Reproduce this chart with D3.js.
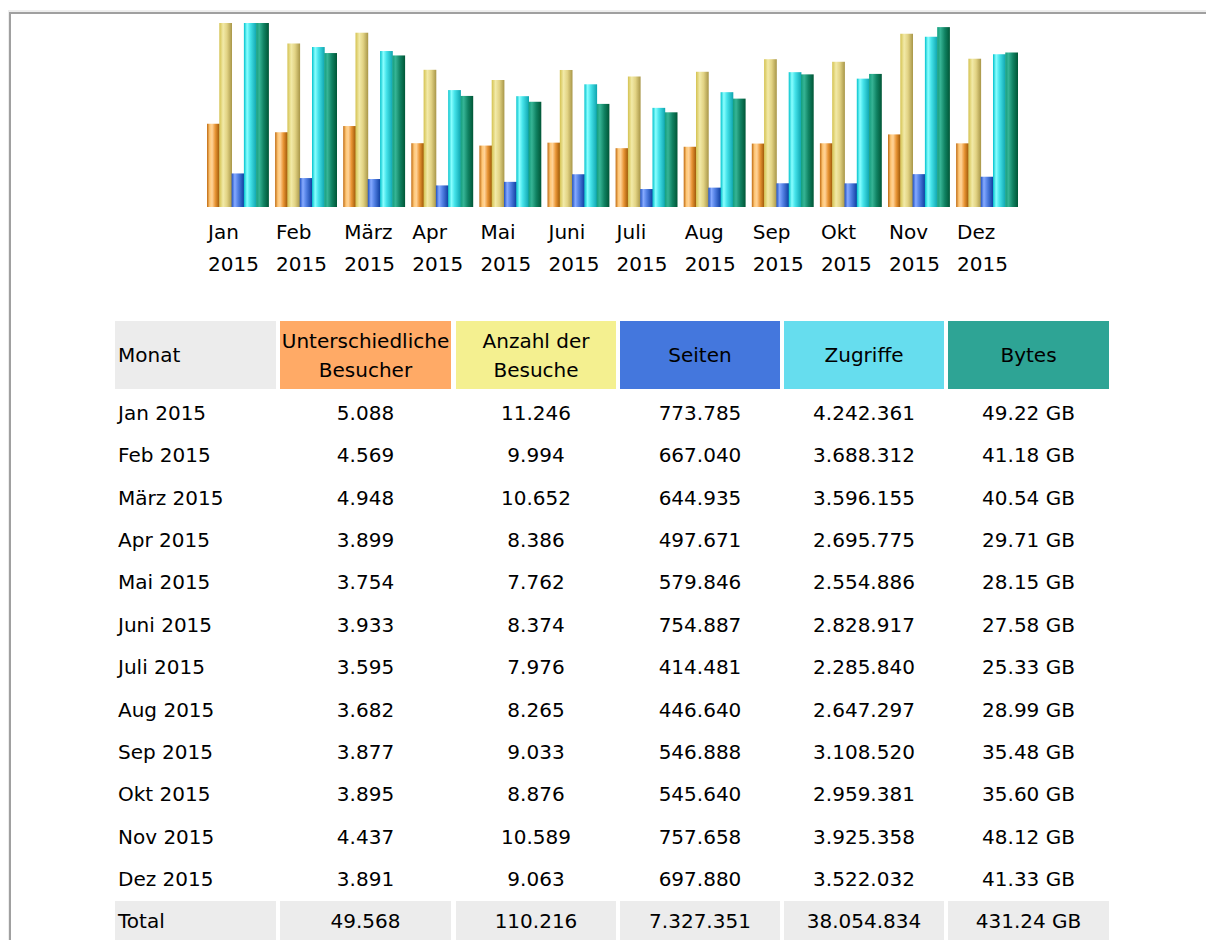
<!DOCTYPE html>
<html>
<head>
<meta charset="utf-8">
<script src="https://cdn.jsdelivr.net/npm/d3@7"></script>
<style>
  body { margin: 0; background: #fff; }
  text { font-family: "DejaVu Sans", Verdana, sans-serif; font-size: 20px; fill: #000; }
</style>
</head>
<body>
<div id="chart-area"></div>
<script>
const width = 1206;
const height = 940;

// data
const months = ["Jan", "Feb", "März", "Apr", "Mai", "Juni", "Juli", "Aug", "Sep", "Okt", "Nov", "Dez"];
const year = "2015";
const visitors = [5088, 4569, 4948, 3899, 3754, 3933, 3595, 3682, 3877, 3895, 4437, 3891];
const visits = [11246, 9994, 10652, 8386, 7762, 8374, 7976, 8265, 9033, 8876, 10589, 9063];
const pages = [773785, 667040, 644935, 497671, 579846, 754887, 414481, 446640, 546888, 545640, 757658, 697880];
const hits = [4242361, 3688312, 3596155, 2695775, 2554886, 2828917, 2285840, 2647297, 3108520, 2959381, 3925358, 3522032];
const bytesGB = [49.22, 41.18, 40.54, 29.71, 28.15, 27.58, 25.33, 28.99, 35.48, 35.60, 48.12, 41.33];
const totals = ["49.568", "110.216", "7.327.351", "38.054.834", "431.24 GB"];
const headers = [["Monat"], ["Unterschiedliche", "Besucher"], ["Anzahl der", "Besuche"], ["Seiten"], ["Zugriffe"], ["Bytes"]];
const headerColors = ["#ececec", "#ffaa66", "#f4f090", "#4477dd", "#66ddee", "#2ea495"];

const de = d3.formatLocale({decimal: ",", thousands: ".", grouping: [3], currency: ["", " €"]});
const fmtInt = de.format(",d");
const fmtGB = v => d3.format(".2f")(v) + " GB";

const svg = d3.select("#chart-area")
    .append("svg")
        .attr("width", width)
        .attr("height", height);

// page frame
svg.append("rect").attr("x", 8).attr("y", 10).attr("width", width).attr("height", 2).attr("fill", "#eeeeee");
svg.append("rect").attr("x", 8).attr("y", 10).attr("width", 1).attr("height", height).attr("fill", "#eeeeee");
svg.append("rect").attr("x", 9).attr("y", 12).attr("width", width).attr("height", 2).attr("fill", "#a0a0a0");
svg.append("rect").attr("x", 9).attr("y", 12).attr("width", 2).attr("height", height).attr("fill", "#a0a0a0");

// gradients for the shaded bars
const gradients = {
    u: [["0%", "#c06a10"], ["22%", "#ffc878"], ["40%", "#ffd398"], ["65%", "#e99535"], ["100%", "#9a5505"]],
    v: [["0%", "#d4c250"], ["30%", "#f2eaa8"], ["60%", "#e2d384"], ["100%", "#a89648"]],
    p: [["0%", "#1e4fc0"], ["25%", "#86aaff"], ["50%", "#5583e6"], ["100%", "#0c3c9e"]],
    h: [["0%", "#00c2cc"], ["25%", "#8affff"], ["50%", "#45e3ea"], ["100%", "#0ea4ae"]],
    k: [["0%", "#129e7e"], ["25%", "#36b495"], ["60%", "#108262"], ["100%", "#005636"]]
};
const defs = svg.append("defs");
Object.entries(gradients).forEach(([key, stops]) => {
    const g = defs.append("linearGradient").attr("id", "grad-" + key)
        .attr("x1", "0%").attr("x2", "100%").attr("y1", "0%").attr("y2", "0%");
    stops.forEach(s => g.append("stop").attr("offset", s[0]).attr("stop-color", s[1]));
});

// bar chart
const baseline = 207;
const x = d3.scaleBand()
    .domain(months)
    .range([207, 207 + 11 * 68.1 + 61.5])
    .paddingInner(0.097);
const series = ["u", "v", "p", "h", "k"];
const xSub = d3.scaleBand().domain(series).range([0, x.bandwidth()]);

const yVisits = d3.scaleLinear().domain([0, d3.max(visits)]).range([0, 184]);
const yHits = d3.scaleLinear().domain([0, d3.max(hits)]).range([0, 184]);
const yBytes = d3.scaleLinear().domain([0, d3.max(bytesGB)]).range([0, 184]);

const barData = [];
months.forEach((m, i) => {
    barData.push({m, s: "u", h: yVisits(visitors[i])});
    barData.push({m, s: "v", h: yVisits(visits[i])});
    barData.push({m, s: "p", h: yHits(pages[i])});
    barData.push({m, s: "h", h: yHits(hits[i])});
    barData.push({m, s: "k", h: yBytes(bytesGB[i])});
});

svg.append("g").selectAll("rect")
    .data(barData)
    .enter()
    .append("rect")
        .attr("x", d => x(d.m) + xSub(d.s))
        .attr("y", d => baseline - d.h)
        .attr("width", xSub.bandwidth() + 0.4)
        .attr("height", d => d.h)
        .attr("fill", d => `url(#grad-${d.s})`);

const labels = svg.append("g").selectAll("text")
    .data(months)
    .enter()
    .append("text")
        .attr("x", d => x(d) + 1)
        .attr("y", 239);
labels.append("tspan").text(d => d);
labels.append("tspan").attr("x", d => x(d) + 1).attr("dy", 32).text(year);

// table
const colX = [115, 280, 456, 620, 784, 948];
const colW = [161, 171, 160, 160, 160, 161];
const headTop = 321, headH = 68;
const rowY = d3.scaleLinear().domain([0, 11]).range([413, 879]);

const head = svg.append("g");
headers.forEach((h, j) => {
    head.append("rect")
        .attr("x", colX[j]).attr("y", headTop)
        .attr("width", colW[j]).attr("height", headH)
        .attr("fill", headerColors[j]);
    const t = head.append("text")
        .attr("x", j === 0 ? colX[j] + 3 : colX[j] + colW[j] / 2)
        .attr("text-anchor", j === 0 ? "start" : "middle")
        .attr("y", h.length === 1 ? headTop + headH / 2 + 7 : headTop + 27);
    h.forEach((line, k) => {
        t.append("tspan")
            .attr("x", j === 0 ? colX[j] + 3 : colX[j] + colW[j] / 2)
            .attr("dy", k === 0 ? 0 : 29)
            .text(line);
    });
});

const rows = months.map((m, i) => [
    m + " " + year,
    fmtInt(visitors[i]),
    fmtInt(visits[i]),
    fmtInt(pages[i]),
    fmtInt(hits[i]),
    fmtGB(bytesGB[i])
]);

const body = svg.append("g");
rows.forEach((r, i) => {
    body.selectAll(null)
        .data(r)
        .enter()
        .append("text")
            .attr("x", (d, j) => j === 0 ? colX[j] + 3 : colX[j] + colW[j] / 2)
            .attr("text-anchor", (d, j) => j === 0 ? "start" : "middle")
            .attr("y", rowY(i) + 7)
            .text(d => d);
});

// total row
const totalY = rowY(11) + 22;
const totalRow = ["Total"].concat(totals);
svg.append("g").selectAll("rect")
    .data(totalRow)
    .enter()
    .append("rect")
        .attr("x", (d, j) => colX[j])
        .attr("y", totalY)
        .attr("width", (d, j) => colW[j])
        .attr("height", 42)
        .attr("fill", "#ececec");
svg.append("g").selectAll("text")
    .data(totalRow)
    .enter()
    .append("text")
        .attr("x", (d, j) => j === 0 ? colX[j] + 3 : colX[j] + colW[j] / 2)
        .attr("text-anchor", (d, j) => j === 0 ? "start" : "middle")
        .attr("y", rowY(12) + 7)
        .text(d => d);
</script>
</body>
</html>
